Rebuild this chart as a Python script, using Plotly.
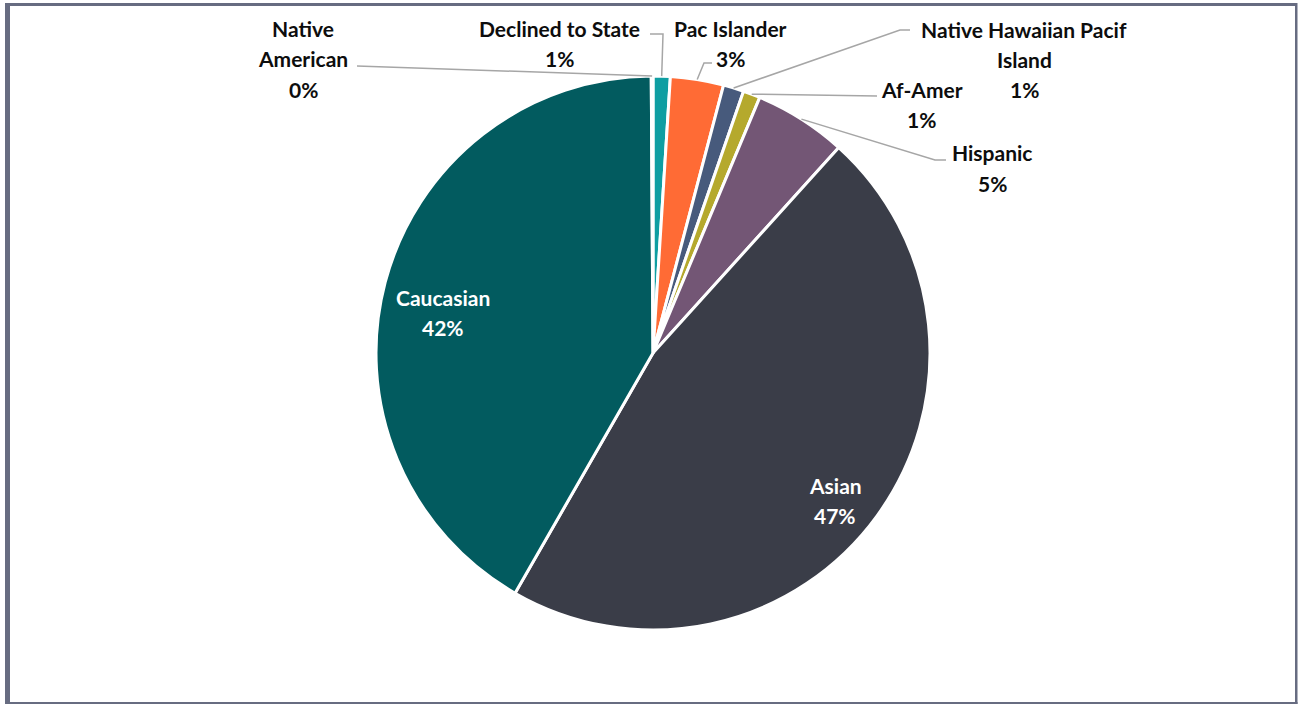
import math
import plotly.graph_objects as go

W, H = 1298, 704

# Share of enrolment by ethnicity (%), clockwise from 12 o'clock
categories = ["Declined to State", "Pac Islander", "Native Hawaiian Pacif Island",
              "Af-Amer", "Hispanic", "Asian", "Caucasian", "Native American"]
shares = [1.0, 3.1, 1.2, 1.0, 5.4, 46.6, 41.6, 0.1]
colors = ["#0F9EA2", "#FF6B35", "#475A7C", "#B5A92D", "#735675",
          "#3A3D48", "#025B5F", "#0B7B80"]

# Pie geometry in pixels
CX, CY, R = 653, 353, 277


def px(x):
    return x / W


def py(y):
    return 1 - y / H


# Where each category's label sits: centre x, first line y, words per line,
# inside/outside, and the elbow points of the leader line.
label_layout = {
    "Declined to State": dict(x=559, y=29, words=[3], inside=False, path=[(663, 34), (650, 34)]),
    "Pac Islander": dict(x=730, y=29, words=[2], inside=False, path=[(704, 63), (712, 63)]),
    "Native Hawaiian Pacif Island": dict(x=1024, y=30, words=[3, 1], inside=False, path=[(900, 30), (910, 30)]),
    "Af-Amer": dict(x=922, y=89, words=[1], inside=False, path=[(877, 96)]),
    "Hispanic": dict(x=992, y=153, words=[1], inside=False, path=[(935, 160), (946, 160)]),
    "Asian": dict(x=835, y=485, words=[1], inside=True, path=[]),
    "Caucasian": dict(x=443, y=297, words=[1], inside=True, path=[]),
    "Native American": dict(x=303, y=29, words=[1, 1], inside=False, path=[(357, 66)]),
}
LINE_GAP = 30
FONT = "Lato"
FONT_SIZE = 21

fig = go.Figure(go.Pie(
    labels=categories,
    values=shares,
    sort=False,
    direction="clockwise",
    rotation=0,
    marker=dict(colors=colors, line=dict(color="white", width=3)),
    textinfo="none",
    hoverinfo="label+percent",
    domain=dict(x=[px(CX - R), px(CX + R)], y=[py(CY + R), py(CY - R)]),
    showlegend=False,
))

annotations = []
shapes = []
total = sum(shares)
cum = 0.0
for name, v in zip(categories, shares):
    spec = label_layout[name]
    pct = f"{round(v / total * 100)}%"
    words = name.split()
    lines = []
    k = 0
    for n in spec["words"]:
        lines.append(" ".join(words[k:k + n]))
        k += n
    if k < len(words):
        lines[-1] = " ".join([lines[-1]] + words[k:])
    lines.append(pct)
    col = "white" if spec["inside"] else "#0D0D0D"
    for i, t in enumerate(lines):
        annotations.append(dict(
            x=px(spec["x"]), y=py(spec["y"] + i * LINE_GAP), xref="paper", yref="paper",
            text=f"<b>{t}</b>", showarrow=False, xanchor="center", yanchor="middle",
            font=dict(family=FONT, size=FONT_SIZE, color=col),
        ))
    # leader line from the slice midpoint on the rim
    mid = (cum + v / 2) / total
    ang = 2 * math.pi * mid
    ax, ay = CX + R * math.sin(ang), CY - R * math.cos(ang)
    cum += v
    if spec["path"]:
        pts = [(ax, ay)] + spec["path"]
        d = "M " + " L ".join(f"{px(x):.5f},{py(y):.5f}" for x, y in pts)
        shapes.append(dict(type="path", path=d, xref="paper", yref="paper",
                           line=dict(color="#A6A6A6", width=1.5)))

# chart frame
frame = "#676C81"
shapes += [
    dict(type="rect", xref="paper", yref="paper", x0=px(5), x1=px(10), y0=py(704), y1=py(3),
         fillcolor=frame, line=dict(width=0)),
    dict(type="rect", xref="paper", yref="paper", x0=px(5), x1=px(1297), y0=py(6), y1=py(3),
         fillcolor=frame, line=dict(width=0)),
    dict(type="rect", xref="paper", yref="paper", x0=px(1295), x1=px(1297.5), y0=py(704), y1=py(3),
         fillcolor=frame, line=dict(width=0)),
    dict(type="rect", xref="paper", yref="paper", x0=px(5), x1=px(1297.5), y0=py(704), y1=py(702),
         fillcolor=frame, line=dict(width=0)),
]

fig.update_layout(
    width=W, height=H,
    margin=dict(l=0, r=0, t=0, b=0),
    paper_bgcolor="white",
    plot_bgcolor="white",
    annotations=annotations,
    shapes=shapes,
)

fig.write_html("out.html")
